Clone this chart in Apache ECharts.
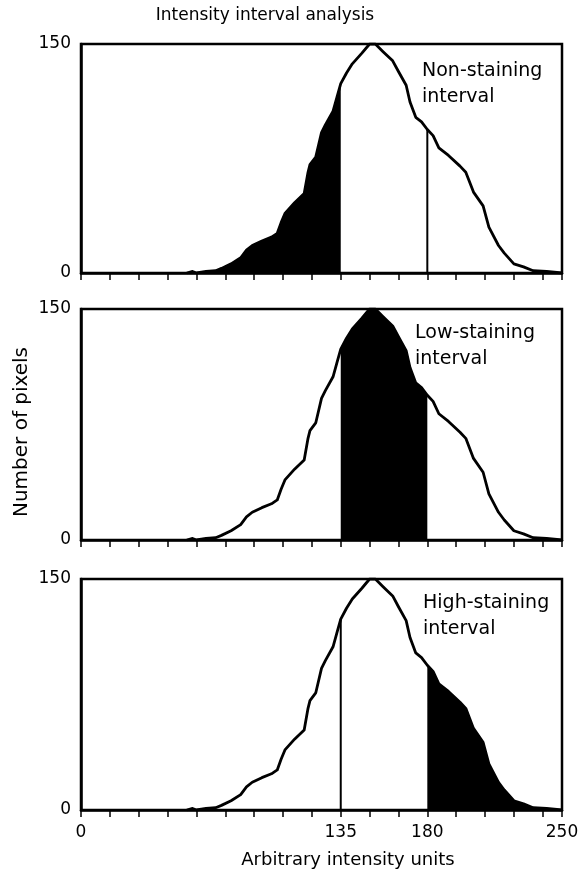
<!DOCTYPE html>
<html>
<head>
<meta charset="utf-8">
<script src="https://cdn.jsdelivr.net/npm/echarts@6/dist/echarts.min.js"></script>
<style>
  html, body { margin: 0; padding: 0; background: #fff; }
  #chart { width: 585px; height: 874px; }
</style>
</head>
<body>
<div id="chart"></div>
<script>
// histogram (same curve in all three panels)
const intensity = [55, 58, 60, 65, 70, 73, 78, 83, 86, 89, 94, 99, 102, 104, 106, 111, 116, 118, 119, 122, 125, 127, 131, 133, 135, 138, 141, 146, 150, 153, 157, 162, 165, 169, 171, 174, 177, 180, 183, 186, 191, 197, 200, 204, 209, 212, 217, 220, 225, 230, 235, 242, 250];
const pixels = [0, 1, 0, 1, 1.5, 3, 6, 10, 15, 18, 21, 23.5, 26, 33, 39, 46, 52, 66, 71, 76, 92, 97, 106, 115, 124, 131, 137, 144, 150, 150, 145, 139, 132, 123, 112, 102, 99, 94, 90, 82, 77, 70, 66, 53, 44, 30, 18, 13, 6, 4, 1.5, 1, 0];

const xTickLabels = [0, 135, 180, 250];
const yTickLabels = [0, 150];

// panels: shaded interval [from, to], thin vertical markers, caption
const panelNames = ['Non-staining\ninterval', 'Low-staining\ninterval', 'High-staining\ninterval'];
const shadeFrom = [0, 135, 180];
const shadeTo = [135, 180, 250];
const markerLines = [[180], [], [135]];

const FONT = 'DejaVu Sans';
const panelTop = [44, 309, 579];
const panelHeight = [229, 231, 231];
const captionPos = [[422, 58], [415, 320], [423, 590]];

const points = intensity.map((x, i) => [x, pixels[i]]);
function valueAt(x) {
  const i = intensity.indexOf(x);
  return pixels[i];
}

const chart = echarts.init(document.getElementById('chart'), null, { renderer: 'canvas' });

const grids = [], xAxes = [], yAxes = [], series = [];
for (let p = 0; p < 3; p++) {
  grids.push({
    left: 81, right: 23, top: panelTop[p], height: panelHeight[p],
    show: true, borderColor: '#000', borderWidth: 2.5,
    outerBoundsMode: 'none'
  });
  xAxes.push({
    gridIndex: p, type: 'value', min: 0, max: 250, interval: 15,
    axisLine: { lineStyle: { color: '#000', width: 2.5 } },
    axisTick: { show: true, length: 7, lineStyle: { color: '#000', width: 1.5 } },
    axisLabel: {
      show: p === 2, color: '#000', fontFamily: FONT, fontSize: 17, margin: 14,
      formatter: v => (xTickLabels.indexOf(v) >= 0 ? String(v) : '')
    },
    splitLine: { show: false }
  });
  yAxes.push({
    gridIndex: p, type: 'value', min: 0, max: 150, interval: 150,
    axisLine: { show: true, lineStyle: { color: '#000', width: 2.5 } },
    axisTick: { show: false },
    axisLabel: {
      color: '#000', fontFamily: FONT, fontSize: 17, margin: 10,
      formatter: v => (yTickLabels.indexOf(v) >= 0 ? String(v) : '')
    },
    splitLine: { show: false }
  });
  // shaded interval
  series.push({
    type: 'line', xAxisIndex: p, yAxisIndex: p,
    data: points.filter(d => d[0] >= shadeFrom[p] && d[0] <= shadeTo[p]),
    symbol: 'none', lineStyle: { width: 0 },
    areaStyle: { color: '#000', opacity: 1 },
    z: 2
  });
  // histogram outline
  series.push({
    type: 'line', xAxisIndex: p, yAxisIndex: p, data: points,
    symbol: 'none', lineStyle: { color: '#000', width: 2.8, join: 'round' },
    z: 3
  });
  // interval boundaries drawn as thin lines
  markerLines[p].forEach(x => {
    series.push({
      type: 'line', xAxisIndex: p, yAxisIndex: p,
      data: [[x, 0], [x, valueAt(x)]],
      symbol: 'none', lineStyle: { color: '#000', width: 2 },
      z: 3
    });
  });
}

const textStyle = { fill: '#000', fontFamily: FONT };
const graphics = [
  { type: 'text', style: Object.assign({ text: 'Intensity interval analysis', fontSize: 17, x: 265, y: 16, align: 'center', verticalAlign: 'middle' }, textStyle) },
  { type: 'text', x: 22, y: 432, rotation: Math.PI / 2, style: Object.assign({ text: 'Number of pixels', fontSize: 20, align: 'center', verticalAlign: 'middle' }, textStyle) },
  { type: 'text', style: Object.assign({ text: 'Arbitrary intensity units', fontSize: 18, x: 348, y: 860, align: 'center', verticalAlign: 'middle' }, textStyle) }
];
panelNames.forEach((name, p) => {
  graphics.push({
    type: 'text',
    style: Object.assign({ text: name, fontSize: 19, lineHeight: 26, x: captionPos[p][0], y: captionPos[p][1], align: 'left', verticalAlign: 'top' }, textStyle)
  });
});

chart.setOption({
  animation: false,
  backgroundColor: '#fff',
  grid: grids,
  xAxis: xAxes,
  yAxis: yAxes,
  series: series,
  graphic: graphics
});
</script>
</body>
</html>
